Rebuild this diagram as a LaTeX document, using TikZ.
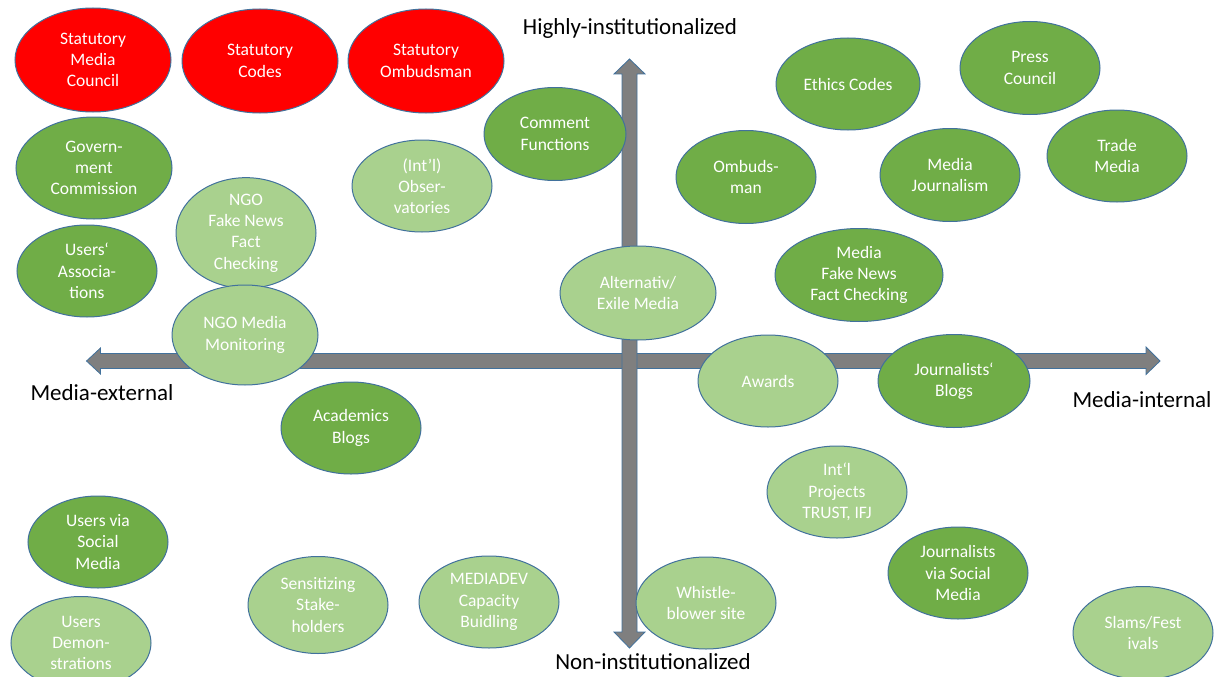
\documentclass[tikz,border=0pt]{standalone}
\usepackage{fontspec}
\setmainfont{Carlito}
\usetikzlibrary{shapes.geometric}
\definecolor{redfill}{HTML}{FF0000}
\definecolor{darkgr}{HTML}{70AD47}
\definecolor{lightgr}{HTML}{A9D18E}
\definecolor{edgeblue}{HTML}{41719C}
\definecolor{axisgray}{HTML}{7F7F7F}
\tikzset{
  oval/.style={ellipse, draw=edgeblue, line width=1pt, inner sep=0pt,
    text=white, align=center, font=\fontsize{17.5}{21.3}\selectfont},
  redov/.style={oval, fill=redfill},
  darkov/.style={oval, fill=darkgr},
  lightov/.style={oval, fill=lightgr},
  axisarrow/.style={fill=axisgray, draw=edgeblue, line width=0.8pt, line join=miter},
  axislabel/.style={font=\fontsize{23}{27}\selectfont, text=black, inner sep=0pt}
}
\newcommand{\ov}[6]{\node[#1, minimum width=#4pt, minimum height=#5pt] (#2) at (#3) {#6};}
\begin{document}
\begin{tikzpicture}[x=1pt,y=-1pt]
\useasboundingbox (0,0) rectangle (1218,677);
% axes
\coordinate (vtop) at (629.5,59);
\coordinate (vbot) at (629.5,648);
\coordinate (hleft) at (86.5,361);
\coordinate (hright) at (1160,361);
\draw[axisarrow] (hleft) -- ++(14,-13) -- ++(0,5.5) -- (1146,353.5) -- ++(0,-6.5) -- (hright) -- (1146,374.5) -- ++(0,-6) -- (100.5,368.5) -- ++(0,5.5) -- cycle;
\draw[axisarrow] (vtop) -- ++(15.5,15) -- ++(-8,0) -- (637,632) -- ++(8,0) -- (vbot) -- (614,632) -- ++(8,0) -- (622,74) -- ++(-8,0) -- cycle;
% axis labels
\node[axislabel] (lhigh) at (630,28) {Highly-institutionalized};
\node[axislabel] (lext) at (102,393) {Media-external};
\node[axislabel] (lint) at (1142,400) {Media-internal};
\node[axislabel] (lnon) at (653,662) {Non-institutionalized};
% ellipses
\ov{redov}{smc}{93,60}{156}{104}{Statutory\\Media\\Council}
\ov{redov}{sc}{260,61}{156}{104}{Statutory\\Codes}
\ov{redov}{so}{426,61}{156}{104}{Statutory\\Ombudsman}
\ov{darkov}{cf}{555,134}{142}{93}{Comment\\Functions}
\ov{darkov}{gc}{94,168}{156}{102}{Govern-\\ment\\Commission}
\ov{lightov}{obs}{422,186}{140}{92}{(Int’l)\\Obser-\\vatories}
\ov{lightov}{ngofn}{246,233}{140}{92}{NGO\\Fake News\\Fact\\Checking}
\ov{darkov}{ua}{87,271}{140}{92}{Users‘\\Associa-\\tions}
\ov{lightov}{ngomm}{245,335}{146}{100}{NGO Media\\Monitoring}
\ov{lightov}{alt}{638,293}{156}{94}{Alternativ/\\Exile Media}
\ov{darkov}{ec}{848,84}{144}{92}{Ethics Codes}
\ov{darkov}{pc}{1030,68}{140}{93}{Press\\Council}
\ov{darkov}{omb}{746,177}{140}{93}{Ombuds-\\man}
\ov{darkov}{mj}{950,175}{140}{93}{Media\\Journalism}
\ov{darkov}{tm}{1117,156}{140}{92}{Trade\\Media}
\ov{darkov}{mfn}{859,275}{168}{93}{Media\\Fake News\\Fact Checking}
\ov{lightov}{aw}{768,381}{140}{92}{Awards}
\ov{darkov}{jb}{954,381}{152}{93}{Journalists‘\\Blogs}
\ov{darkov}{ab}{351,428}{140}{92}{Academics\\Blogs}
\ov{lightov}{ip}{837,492}{140}{92}{Int‘l\\Projects\\TRUST, IFJ}
\ov{darkov}{usm}{98,542}{140}{92}{Users via\\Social\\Media}
\ov{darkov}{jsm}{958,573}{140}{92}{Journalists\\via Social\\Media}
\ov{lightov}{ss}{318,605}{140}{97}{Sensitizing\\Stake-\\holders}
\ov{lightov}{md}{489,602}{140}{92}{MEDIADEV\\Capacity\\Buidling}
\ov{lightov}{wb}{706,603}{140}{92}{Whistle-\\blower site}
\ov{lightov}{ud}{81,643}{140}{93}{Users\\Demon-\\strations}
\ov{lightov}{sf}{1143,633}{140}{93}{Slams/Fest\\ivals}
\end{tikzpicture}
\end{document}
